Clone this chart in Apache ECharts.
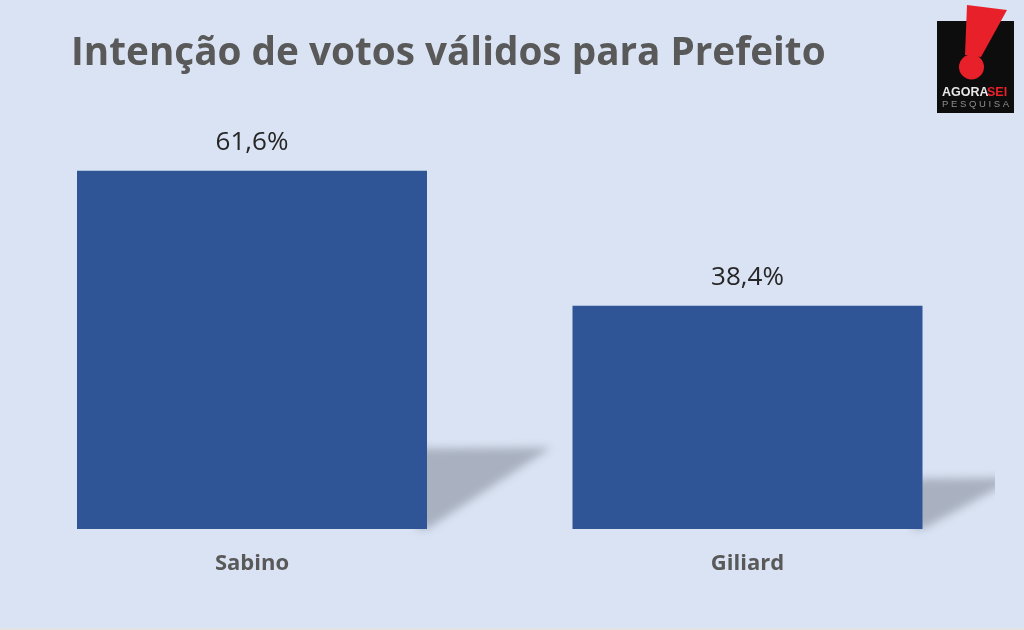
<!DOCTYPE html>
<html><head><meta charset="utf-8">
<style>html,body{margin:0;padding:0;background:#dae3f3}#c{width:1024px;height:630px}</style>
<script src="https://cdn.jsdelivr.net/npm/echarts@6/dist/echarts.min.js"></script>
</head><body><div id="c"></div>
<script>
const categories = ['Sabino', 'Giliard'];
const votes = [61.6, 38.4];
const titleText = 'Intenção de votos válidos para Prefeito';

const chart = echarts.init(document.getElementById('c'), null, {renderer: 'canvas'});
const font = '"Open Sans", sans-serif';
const OFF = 3000;

function shadowItem(params, api) {
  const base = api.coord([api.value(0), 0]);
  const top = api.coord([api.value(0), api.value(1)]);
  const h = base[1] - top[1];
  const halfBar = api.size([1, 0])[0] * 0.7071 / 2;
  const x = base[0] + halfBar;
  const tipX = x + 44.5 + h * 0.222;
  const topY = base[1] - h * 0.225;
  const pts = [[x - 10, topY], [tipX, topY - 1], [x, base[1]], [x - 10, base[1]]];
  return {
    type: 'polygon',
    shape: {points: pts.map(p => [p[0] - OFF, p[1]])},
    clipPath: {type: 'rect', shape: {x: 0, y: 0, width: 995, height: 630}},
    style: {fill: '#a9b1c1', shadowBlur: 9, shadowColor: '#a9b1c1', shadowOffsetX: OFF}
  };
}

chart.setOption({
  backgroundColor: '#dae3f3',
  animation: false,
  title: {
    text: titleText, left: 66, top: 29,
    textStyle: {fontFamily: font, fontSize: 38.7, fontWeight: 'bold', color: '#595959'}
  },
  grid: {left: 4.25, right: 28.75, top: 122, bottom: 101},
  xAxis: {
    type: 'category', data: categories,
    axisLine: {show: false}, axisTick: {show: false},
    axisLabel: {fontFamily: font, fontSize: 22, fontWeight: 'bold', color: '#595959', margin: 24}
  },
  yAxis: {type: 'value', min: 0, max: 70, show: false, splitLine: {show: false}},
  series: [
    {
      type: 'custom', data: categories.map((c, i) => [i, votes[i]]),
      renderItem: shadowItem, z: 1, silent: true, clip: false
    },
    {
      type: 'bar', data: votes, barWidth: 350, z: 2,
      itemStyle: {color: '#2f5597'},
      label: {
        show: true, position: 'top', distance: 15,
        fontFamily: font, fontSize: 26, color: '#262626',
        formatter: p => p.value.toFixed(1).replace('.', ',') + '%'
      }
    }
  ],
  graphic: [
    {type: 'rect', shape: {x: 937, y: 21, width: 77, height: 92}, style: {fill: '#0d0d0d'}, z: 10},
    {type: 'polygon', shape: {points: [[967, 5], [1007, 10], [981, 57], [965, 55]]}, style: {fill: '#e8202a'}, z: 11},
    {type: 'circle', shape: {cx: 971.5, cy: 67, r: 12.5}, style: {fill: '#e8202a'}, z: 11},
    {type: 'text', x: 942, y: 86, style: {text: 'AGORA', fill: '#e8e8e8', font: 'bold 12.5px "Liberation Sans"'}, z: 11},
    {type: 'text', x: 987, y: 86, style: {text: 'SEI', fill: '#e8202a', font: 'bold 12.5px "Liberation Sans"'}, z: 11},
    {type: 'text', x: 942, y: 99, style: {text: 'P E S Q U I S A', fill: '#8f8f8f', font: '9.5px "Liberation Sans"'}, z: 11},
    {type: 'rect', shape: {x: 0, y: 628, width: 1024, height: 2}, style: {fill: '#e3e3e3'}, z: 10}
  ]
});
</script></body></html>
